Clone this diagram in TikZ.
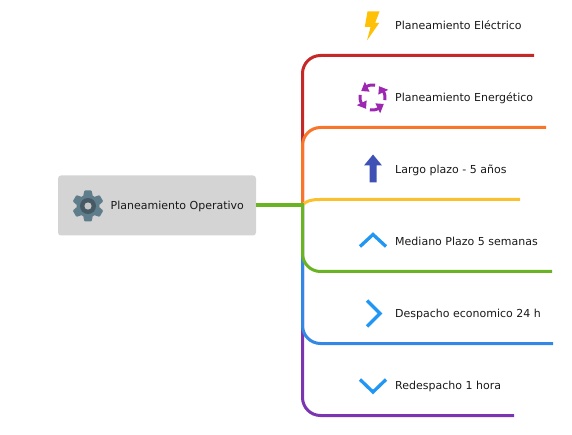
\documentclass[tikz,border=0pt]{standalone}
\usepackage{fontspec}
\setmainfont{DejaVu Sans}
\definecolor{cred}{HTML}{C62828}
\definecolor{corange}{HTML}{F9752B}
\definecolor{cyellow}{HTML}{FBC02D}
\definecolor{cgreen}{HTML}{6AB423}
\definecolor{cblue}{HTML}{3388E5}
\definecolor{cpurple}{HTML}{7B35B0}
\definecolor{cchev}{HTML}{2196F3}
\definecolor{cmag}{HTML}{9C27B0}
\definecolor{cindigo}{HTML}{3F51B5}
\definecolor{cbolt}{HTML}{FFC107}
\definecolor{cgear}{HTML}{607D8B}
\definecolor{cgeard}{HTML}{455A64}
\tikzset{
  x=1pt,y=-1pt,
  rootbox/.style={fill=black!17,rounded corners=3pt,minimum width=198pt,minimum height=60pt,inner sep=0pt},
  lab/.style={anchor=base west,inner sep=0pt,font=\fontsize{11pt}{13pt}\selectfont,text=black!90},
  branch/.style={line width=3pt,rounded corners=18pt},
  chev/.style={draw=cchev,line width=3.3pt,line join=miter},
  circ/.style={draw=cmag,line width=3pt}
}
\begin{document}
\begin{tikzpicture}
\useasboundingbox (0,0) rectangle (572,435);
\node[rootbox] (root) at (157,205.5) {};
\node[lab] (t0) at (110.5,209.6) {Planeamiento Operativo};
\node[lab] (t1) at (395,29.6) {Planeamiento Eléctrico};
\node[lab] (t2) at (395,101.6) {Planeamiento Energético};
\node[lab] (t3) at (395,173.6) {Largo plazo - 5 años};
\node[lab] (t4) at (395,245.6) {Mediano Plazo 5 semanas};
\node[lab] (t5) at (395,317.4) {Despacho economico 24 h};
\node[lab] (t6) at (395,389.4) {Redespacho 1 hora};
\coordinate (hub) at (302.5,205);
\coordinate (e1) at (534,55.5);
\coordinate (e2) at (546,127.5);
\coordinate (e3) at (520,199.5);
\coordinate (e4) at (552,271.5);
\coordinate (e5) at (553,343.5);
\coordinate (e6) at (514,415.5);
% connectors
\draw[branch,cpurple] (hub) |- (e6);
\draw[branch,cblue] (hub) |- (e5);
\draw[branch,cred] (hub) |- (e1);
\draw[branch,corange] (hub) |- (e2);
\draw[branch,cyellow,rounded corners=0pt] (hub) .. controls (306,201) and (311,199.5) .. (320,199.5) -- (e3);
\draw[branch,cgreen] (hub) |- (e4);
\draw[branch,cgreen,line width=3.6pt,rounded corners=0pt] (root.east |- hub) -- ([xshift=1.5pt]hub);
% gear
\begin{scope}[shift={(88,206)}]
  \fill[cgear] (0,0) circle (11.5);
  \foreach \a in {0,60,...,300}
    \fill[cgear,rotate=\a,rounded corners=0.8pt] (-4.8,-10) -- (-3.6,-15.5) -- (3.6,-15.5) -- (4.8,-10) -- cycle;
  \fill[cgeard] (0,0) circle (8);
  \fill[black!22] (0,0) circle (3.6);
\end{scope}
% bolt
\fill[cbolt] (367.5,11.5) -- (379.5,11.5) -- (375.2,22.8) -- (379.3,22.8) -- (367,40.5) -- (370.6,26.8) -- (364.8,26.8) -- cycle;
% cycle arrows
\begin{scope}[shift={(372.5,97.5)}]
  \foreach \a in {0,90,180,270}{
    \draw[circ] plot[domain=-78:-118,samples=6,smooth] ({12.5*cos(\x+\a)},{12.5*sin(\x+\a)});
    \fill[cmag] ({6.5*cos(-116+\a)},{6.5*sin(-116+\a)}) -- ({17.5*cos(-116+\a)},{17.5*sin(-116+\a)}) -- ({13*cos(-150+\a)},{13*sin(-150+\a)}) -- cycle;
  }
\end{scope}
% up arrow
\fill[cindigo] (373,154.5) -- (382,165.5) -- (376.5,165.5) -- (376.5,182.5) -- (369.5,182.5) -- (369.5,165.5) -- (364,165.5) -- cycle;
% chevrons
\draw[chev] (360,246.5) -- (373,234.5) -- (386,246.5);
\draw[chev] (367,300.5) -- (380,313.5) -- (367,326.5);
\draw[chev] (360,379.5) -- (373,392) -- (386,379.5);
\end{tikzpicture}
\end{document}
